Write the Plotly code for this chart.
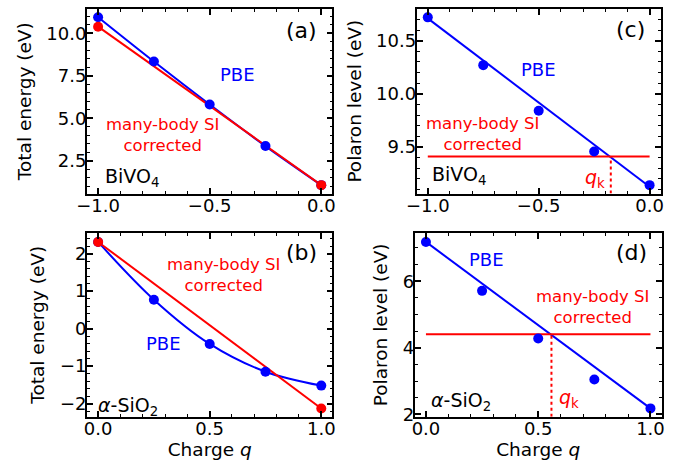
import plotly.graph_objects as go

# ---------------- data ----------------
q_top = [-1.0, -0.75, -0.5, -0.25, 0.0]
q_bot = [0.0, 0.25, 0.5, 0.75, 1.0]

# (a) BiVO4 total energy
a_pbe = [10.96, 8.35, 5.82, 3.37, 1.07]
a_corr_q = [-1.0, 0.0]
a_corr = [10.40, 1.07]

# (b) a-SiO2 total energy
b_pbe = [2.31, 0.77, -0.41, -1.15, -1.52]
b_corr_q = [0.0, 1.0]
b_corr = [2.31, -2.13]

# (c) BiVO4 polaron level
c_pbe = [10.72, 10.27, 9.84, 9.457, 9.14]
c_fit_q = [-1.0, 0.0]
c_fit = [10.71, 9.125]
c_corr_q = [-1.0, 0.0]
c_corr = [9.41, 9.41]
c_qk = -0.175

# (d) a-SiO2 polaron level
d_pbe = [7.18, 5.71, 4.28, 3.05, 2.18]
d_fit_q = [0.0, 1.0]
d_fit = [7.18, 2.18]
d_corr_q = [0.0, 1.0]
d_corr = [4.41, 4.41]
d_qk = 0.559

BLUE = "#0000ff"
RED = "#ff0000"
FONT = "DejaVu Sans"

W, H = 698, 466

def dom_x(l, r):
    return [l / W, r / W]

def dom_y(t, b):
    return [1 - b / H, 1 - t / H]

fig = go.Figure()

def line(x, y, color, xa, ya, dash="solid", shape="linear"):
    fig.add_trace(go.Scatter(x=x, y=y, mode="lines", line=dict(color=color, width=2, dash=dash, shape=shape),
                             xaxis=xa, yaxis=ya, showlegend=False, hoverinfo="skip"))

def pts(x, y, color, xa, ya):
    fig.add_trace(go.Scatter(x=x, y=y, mode="markers", marker=dict(color=color, size=10),
                             xaxis=xa, yaxis=ya, showlegend=False, hoverinfo="skip"))

# panel (a): axes x, y
line(q_top, a_pbe, BLUE, "x", "y", shape="spline")
line(a_corr_q, a_corr, RED, "x", "y")
pts(q_top, a_pbe, BLUE, "x", "y")
pts(a_corr_q, a_corr, RED, "x", "y")

# panel (c): axes x2, y2
line(c_fit_q, c_fit, BLUE, "x2", "y2")
line(c_corr_q, c_corr, RED, "x2", "y2")
pts(q_top, c_pbe, BLUE, "x2", "y2")
C_YR = [9.06, 10.80]
line([c_qk, c_qk], [C_YR[0], c_corr[0]], RED, "x2", "y2", dash="dot")

# panel (b): axes x3, y3
line(q_bot, b_pbe, BLUE, "x3", "y3", shape="spline")
line(b_corr_q, b_corr, RED, "x3", "y3")
pts(q_bot, b_pbe, BLUE, "x3", "y3")
pts(b_corr_q, b_corr, RED, "x3", "y3")

# panel (d): axes x4, y4
line(d_fit_q, d_fit, BLUE, "x4", "y4")
line(d_corr_q, d_corr, RED, "x4", "y4")
pts(q_bot, d_pbe, BLUE, "x4", "y4")
D_YR = [1.93, 7.45]
line([d_qk, d_qk], [D_YR[0], d_corr[0]], RED, "x4", "y4", dash="dot")

def axis(domain, rng, dtick, minor_dtick, anchor, tick0=0, fmt=None, title=None, standoff=-5, tstand=6):
    d = dict(domain=domain, range=rng, anchor=anchor, dtick=dtick, tick0=tick0,
             showline=True, linecolor="black", linewidth=1.8, mirror="allticks",
             ticks="inside", ticklen=6, tickwidth=1.5, tickcolor="black",
             showgrid=False, zeroline=False, ticklabelstandoff=standoff,
             tickfont=dict(family=FONT, size=18, color="black"),
             minor=dict(dtick=minor_dtick, tick0=tick0, ticks="inside", ticklen=3, tickwidth=1,
                        tickcolor="black", showgrid=False))
    if fmt:
        d["tickformat"] = fmt
    if title:
        d["title"] = dict(text=title, font=dict(family=FONT, size=18.5, color="black"), standoff=tstand)
    return d

fig.update_layout(
    width=W, height=H, margin=dict(l=0, r=0, t=0, b=0),
    paper_bgcolor="white", plot_bgcolor="white",
    xaxis=axis(dom_x(77.5, 328), [-1.05, 0.05], 0.5, 0.1, "y", fmt=".1f"),
    yaxis=axis(dom_y(9, 197), [0.57, 11.45], 2.5, 0.5, "x", fmt=".1f", title="Total energy (eV)", tstand=10),
    xaxis2=axis(dom_x(414, 663), [-1.05, 0.05], 0.5, 0.1, "y2", fmt=".1f"),
    yaxis2=axis(dom_y(9, 197), C_YR, 0.5, 0.1, "x2", fmt=".1f", title="Polaron level (eV)", tstand=10),
    xaxis3=axis(dom_x(77.5, 328), [-0.05, 1.05], 0.5, 0.1, "y3", fmt=".1f", title="Charge <i>q</i>", tstand=4),
    yaxis3=axis(dom_y(237, 424), [-2.35, 2.55], 1, 0.2, "x3", title="Total energy (eV)", tstand=10),
    xaxis4=axis(dom_x(412, 664), [-0.05, 1.05], 0.5, 0.1, "y4", fmt=".1f", title="Charge <i>q</i>", tstand=4),
    yaxis4=axis(dom_y(237, 424), D_YR, 2, 0.5, "x4", title="Polaron level (eV)", tstand=10),
)

def txt(x, y, s, color, xa, ya, size=16.5):
    fig.add_annotation(x=x, y=y, text=s, xref=xa, yref=ya, showarrow=False,
                       font=dict(family=FONT, size=size, color=color), xanchor="center", yanchor="middle")

# (a)
txt(-0.376, 7.59, "PBE", BLUE, "x", "y", size=18)
txt(-0.712, 4.04, "many-body SI<br>corrected", RED, "x", "y")
txt(-0.087, 10.19, "(a)", "black", "x", "y", size=22)
txt(-0.85, 1.54, "BiVO<sub>4</sub>", "black", "x", "y", size=19)

# (c)
txt(-0.502, 10.226, "PBE", BLUE, "x2", "y2", size=18)
txt(-0.755, 9.623, "many-body SI<br>corrected", RED, "x2", "y2")
txt(-0.088, 10.61, "(c)", "black", "x2", "y2", size=22)
txt(-0.859, 9.226, "BiVO<sub>4</sub>", "black", "x2", "y2", size=19)
txt(-0.247, 9.207, "<i>q</i><sub>k</sub>", RED, "x2", "y2", size=19)

# (b)
txt(0.56, 1.43, "many-body SI<br>corrected", RED, "x3", "y3")
txt(0.293, -0.41, "PBE", BLUE, "x3", "y3", size=18)
txt(0.912, 2.03, "(b)", "black", "x3", "y3", size=22)
txt(0.135, -2.08, "<i>α</i>-SiO<sub>2</sub>", "black", "x3", "y3", size=19)

# (d)
txt(0.268, 6.65, "PBE", BLUE, "x4", "y4", size=18)
txt(0.744, 5.24, "many-body SI<br>corrected", RED, "x4", "y4")
txt(0.914, 6.86, "(d)", "black", "x4", "y4", size=22)
txt(0.157, 2.38, "<i>α</i>-SiO<sub>2</sub>", "black", "x4", "y4", size=19)
txt(0.638, 2.48, "<i>q</i><sub>k</sub>", RED, "x4", "y4", size=19)

fig.write_html("out.html")
